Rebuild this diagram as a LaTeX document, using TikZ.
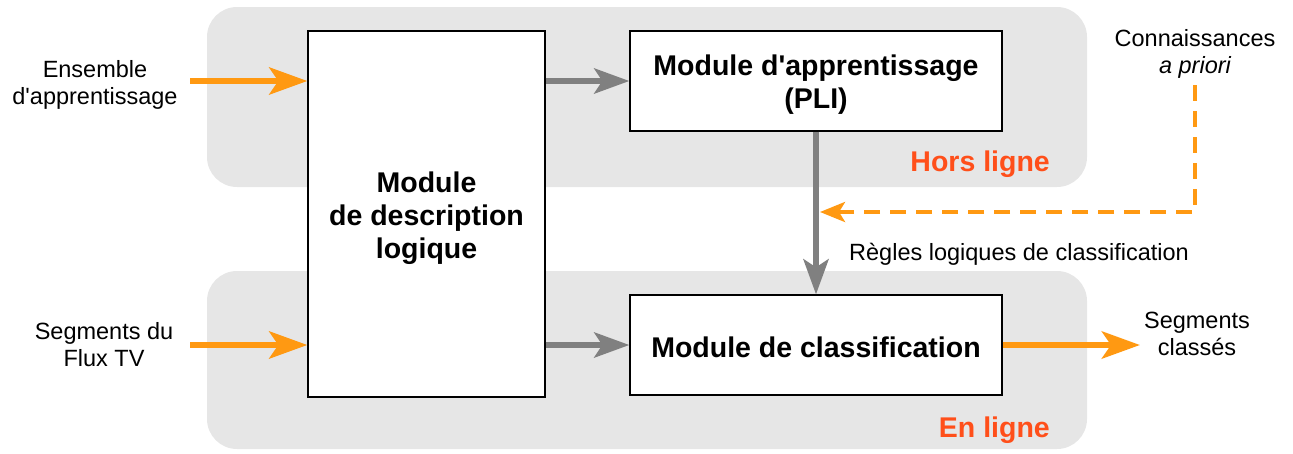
\documentclass[tikz,border=0pt]{standalone}
\usepackage{fontspec}
\setmainfont{Liberation Sans}
\usetikzlibrary{arrows.meta}
\definecolor{panelgray}{HTML}{E6E6E6}
\definecolor{arrorange}{HTML}{FF9912}
\definecolor{arrgray}{HTML}{808080}
\definecolor{labred}{HTML}{FF4F1A}
\tikzset{
  panel/.style={fill=panelgray, draw=none, rounded corners=30pt, minimum width=880pt, inner sep=0pt},
  modbox/.style={draw=black, line width=1.3pt, fill=white, inner sep=0pt},
  boxtext/.style={align=center, inner sep=0pt, yshift=-4pt,
    font=\fontsize{28.5}{33}\selectfont\bfseries},
  lab/.style={align=center, inner sep=0pt, font=\fontsize{23.5}{27}\selectfont},
  zone/.style={inner sep=0pt, text=labred, font=\fontsize{28.5}{33}\selectfont\bfseries},
  orarrow/.style={draw=arrorange, line width=6.5pt, -{Stealth[length=38pt, width=27pt, inset=9pt, fill=arrorange]}},
  grarrow/.style={draw=arrgray, line width=6pt, -{Stealth[length=35pt, width=25pt, inset=8pt, fill=arrgray]}},
  dasharrow/.style={draw=arrorange, line width=4pt, dash pattern=on 16pt off 10pt,
    -{Stealth[length=25pt, width=20pt, inset=6pt, fill=arrorange, sep=0pt]}}
}
\begin{document}
\begin{tikzpicture}[x=1pt,y=-1pt]
\useasboundingbox (0,0) rectangle (1293,453);
% panels
\node[panel, minimum height=180pt] (hors) at (647,97) {};
\node[panel, minimum height=178pt] (enligne) at (647,360) {};
% boxes
\node[modbox, minimum width=237pt, minimum height=366pt,
  label={[boxtext]center:{Module\\de description\\logique}}] (desc) at (426.5,214) {};
\node[modbox, minimum width=372pt, minimum height=100pt,
  label={[boxtext]center:{Module d\textquotesingle apprentissage\\(PLI)}}] (appr) at (816,81) {};
\node[modbox, minimum width=372pt, minimum height=100pt,
  label={[boxtext, yshift=2pt]center:{Module de classification}}] (classif) at (816,345) {};
% labels
\node[lab] (ens) at (95,85) {Ensemble\\d\textquotesingle apprentissage};
\node[lab] (seg) at (104,345) {Segments du\\Flux TV};
\node[lab] (conn) at (1195,54) {Connaissances\\\itshape a priori};
\node[lab] (segc) at (1197,334) {Segments\\classés};
\node[lab, anchor=west] (regles) at (849,254) {Règles logiques de classification};
\node[zone, anchor=east] (hl) at (1050,164) {Hors ligne};
\node[zone, anchor=east] (el) at (1050,430) {En ligne};
% coordinates
\coordinate (ensE) at (190,81);
\coordinate (segE) at (190,345);
\coordinate (outE) at (1140,345);
\coordinate (dstart) at (1195,85);
\coordinate (dend) at (820,212);
% arrows
\draw[orarrow] (ensE) -- (ensE -| desc.west);
\draw[orarrow] (segE) -- (segE -| desc.west);
\draw[orarrow] (classif.east) -- (outE);
\draw[grarrow] (desc.east |- appr.west) -- (appr.west);
\draw[grarrow] (desc.east |- classif.west) -- (classif.west);
\draw[grarrow] (appr.south) -- (classif.north);
\draw[dasharrow] (dstart) |- (dend);
\end{tikzpicture}
\end{document}
